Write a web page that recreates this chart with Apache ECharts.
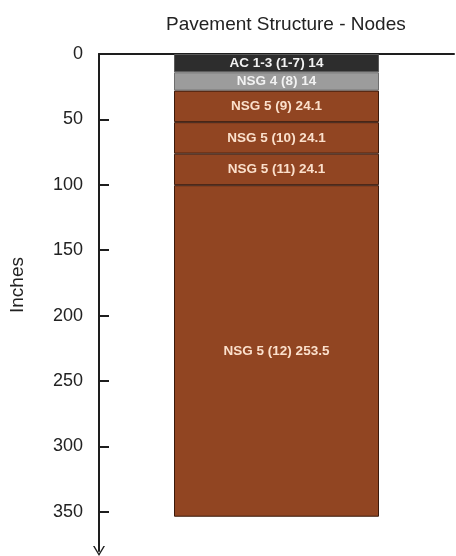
<!DOCTYPE html>
<html>
<head>
<meta charset="utf-8">
<script src="https://cdn.jsdelivr.net/npm/echarts@6/dist/echarts.min.js"></script>
<style>
  html, body { margin: 0; padding: 0; background: #ffffff; }
  #chart { width: 456px; height: 556px; }
</style>
</head>
<body>
<div id="chart"></div>
<script>
// Pavement layers, top to bottom, with thickness in inches
const layerNames = ['AC 1-3 (1-7)', 'NSG 4 (8)', 'NSG 5 (9)', 'NSG 5 (10)', 'NSG 5 (11)', 'NSG 5 (12)'];
const layerThickness = [14, 14, 24.1, 24.1, 24.1, 253.5];
const depthTicks = [0, 50, 100, 150, 200, 250, 300, 350];
const columnCategories = ['Nodes'];

const layerFill = ['#2d2d2d', '#9c9c9c', '#914522', '#914522', '#914522', '#914522'];
const layerText = ['#f2f2f2', '#f2f2f2', '#fbe0cc', '#fbe0cc', '#fbe0cc', '#fbe0cc'];
const layerBorder = ['#5a5a5a', '#6e6e6e', '#3a190b', '#3a190b', '#3a190b', '#3a190b'];

const font = '"Liberation Sans", Arial, Helvetica, sans-serif';
// open chevron drawn at the deep end of the depth axis
const chevron = 'path://M0,10 L6,0 L12,10 L10.4,10 L6,2.6 L1.6,10 Z';

const series = layerNames.map((name, i) => ({
  type: 'bar',
  name: name,
  stack: 'depth',
  barWidth: 205,
  data: [layerThickness[i]],
  itemStyle: { color: layerFill[i], borderColor: layerBorder[i], borderWidth: 1 },
  label: {
    show: true,
    position: 'inside',
    formatter: (p) => p.seriesName + ' ' + p.value,
    color: layerText[i],
    fontFamily: font,
    fontSize: 13.5,
    fontWeight: 'bold'
  },
  emphasis: { disabled: true }
}));

const chart = echarts.init(document.getElementById('chart'), null, { renderer: 'canvas' });
chart.setOption({
  animation: false,
  backgroundColor: '#ffffff',
  title: {
    text: 'Pavement Structure - Nodes',
    left: 161,
    top: 10,
    textStyle: { fontFamily: font, fontSize: 19, fontWeight: 'normal', color: '#222222' }
  },
  grid: { left: 99, right: 2, top: 54, bottom: 5, containLabel: false, outerBoundsMode: 'none' },
  xAxis: {
    type: 'category',
    position: 'top',
    data: columnCategories,
    axisLine: { show: true, lineStyle: { color: '#1e1e1e', width: 2 } },
    axisTick: { show: false },
    axisLabel: { show: false },
    splitLine: { show: false }
  },
  yAxis: {
    type: 'value',
    inverse: true,
    min: 0,
    max: 380,
    interval: 50,
    name: 'Inches',
    nameLocation: 'middle',
    nameRotate: 90,
    nameGap: 72,
    nameTextStyle: { fontFamily: font, fontSize: 19, color: '#222222', padding: [0, 0, 0, 35] },
    axisLine: {
      show: true,
      symbol: [chevron, 'none'],
      symbolSize: [14, 10],
      lineStyle: { color: '#1e1e1e', width: 2 }
    },
    axisTick: {
      show: true,
      inside: true,
      length: 10,
      customValues: depthTicks,
      lineStyle: { color: '#1e1e1e', width: 2 }
    },
    axisLabel: {
      customValues: depthTicks,
      margin: 16,
      fontFamily: font,
      fontSize: 18,
      color: '#222222'
    },
    splitLine: { show: false }
  },
  series: series
});
</script>
</body>
</html>
